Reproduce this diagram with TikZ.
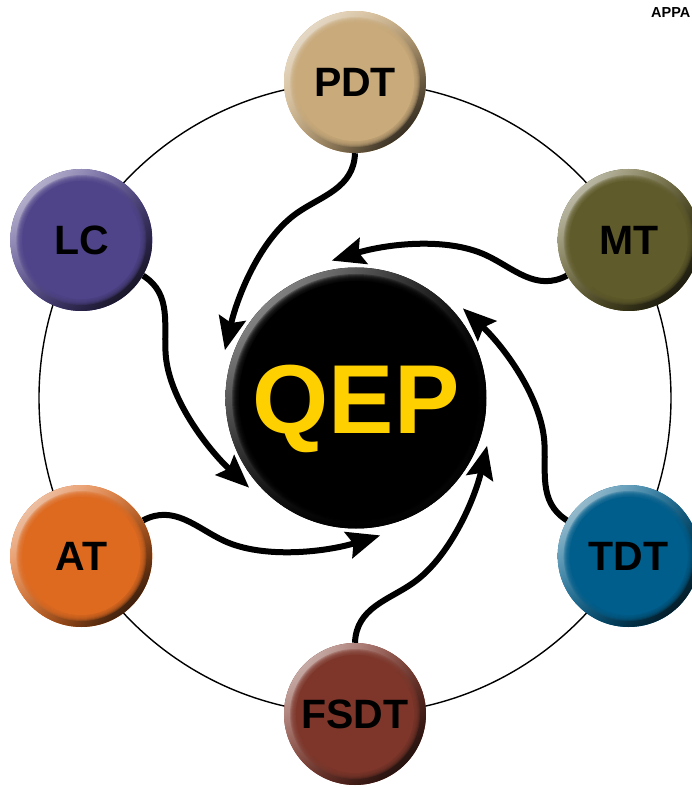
\documentclass[tikz,border=0pt]{standalone}
\usepackage{fontspec}
\setmainfont{Liberation Sans}
\usetikzlibrary{arrows.meta,shadings}

\pgfdeclarelayer{behind}
\pgfsetlayers{behind,main}

\definecolor{pdtcol}{RGB}{201,170,122}
\definecolor{mtcol}{RGB}{96,91,42}
\definecolor{tdtcol}{RGB}{0,94,140}
\definecolor{fsdtcol}{RGB}{126,54,42}
\definecolor{atcol}{RGB}{222,106,32}
\definecolor{lccol}{RGB}{79,68,138}
\definecolor{qepyellow}{RGB}{255,208,0}

\tikzset{
  % small bevelled disc with a light upper-left rim and a dark lower-right rim
  bevel/.style={circle, minimum size=142pt, inner sep=0pt, fill=#1,
    text height=29pt, text depth=0pt,
    font=\fontsize{41}{41}\selectfont\bfseries,
    path picture={
      \shade[upper left=#1!20!white, upper right=#1, lower left=#1,
             lower right=black]
        (path picture bounding box.south west) rectangle
        (path picture bounding box.north east);
      \foreach \k in {0,...,6}
        \fill[#1, opacity=0.3] (path picture bounding box.center)
          circle[radius=65pt-\k*1pt];
      \fill[#1] (path picture bounding box.center) circle[radius=59pt];
    }},
  % large central disc
  hub/.style={circle, minimum size=261pt, inner sep=0pt, fill=black,
    outer sep=9pt, text=qepyellow,
    text height=70pt, text depth=0pt,
    font=\fontsize{98}{98}\selectfont\bfseries,
    path picture={
      \shade[upper left=black!30!white, upper right=black, lower left=black,
             lower right=black]
        (path picture bounding box.south west) rectangle
        (path picture bounding box.north east);
      \foreach \k in {0,...,6}
        \fill[black, opacity=0.3] (path picture bounding box.center)
          circle[radius=124pt-\k*1pt];
      \fill[black] (path picture bounding box.center) circle[radius=117pt];
    }},
  ring/.style={line width=1.4pt, black},
  flow/.style={line width=6pt, black,
    -{Stealth[length=33pt, width=27pt, inset=5pt]}},
}

\begin{document}
\begin{tikzpicture}[x=1pt, y=1pt]
  \useasboundingbox (-355,-389) rectangle (337,398);

  % central process
  \node[hub] (qep) at (1,0) {QEP};

  % surrounding inputs
  \node[bevel=pdtcol]  (pdt)  at (90:316)  {PDT};
  \node[bevel=mtcol]   (mt)   at (30:316)  {MT};
  \node[bevel=tdtcol]  (tdt)  at (-30:316) {TDT};
  \node[bevel=fsdtcol] (fsdt) at (-90:316) {FSDT};
  \node[bevel=atcol]   (at)   at (210:316) {AT};
  \node[bevel=lccol]   (lc)   at (150:316) {LC};

  \node[anchor=base west, inner sep=0pt,
        font=\fontsize{14.5}{14.5}\selectfont\bfseries] (appa) at (296,380) {APPA};

  \begin{pgfonlayer}{behind}
    \draw[ring] (0,0) circle[radius=316];
    % each input swirls into the hub, turning counter-clockwise
    \foreach \n/\t in {pdt/90, mt/30, tdt/-30, fsdt/-90, at/210, lc/150} {
      \pgfmathtruncatemacro\sa{mod(\t+180+360,360)}
      \pgfmathtruncatemacro\ea{mod(\t+70+360,360)}
      \pgfmathsetmacro\oa{\t+178}
      \pgfmathsetmacro\ma{\t+17.4}
      \pgfmathsetmacro\mo{\t+125}
      \pgfmathsetmacro\mi{\t-55}
      \pgfmathsetmacro\ei{\t-13}
      \draw[flow] (\n.\sa)
        to[out=\oa, in=\mi, out distance=35pt, in distance=30pt] (\ma:193.9)
        to[out=\mo, in=\ei, out distance=45pt, in distance=55pt] (qep.\ea);
    }
  \end{pgfonlayer}
\end{tikzpicture}
\end{document}
